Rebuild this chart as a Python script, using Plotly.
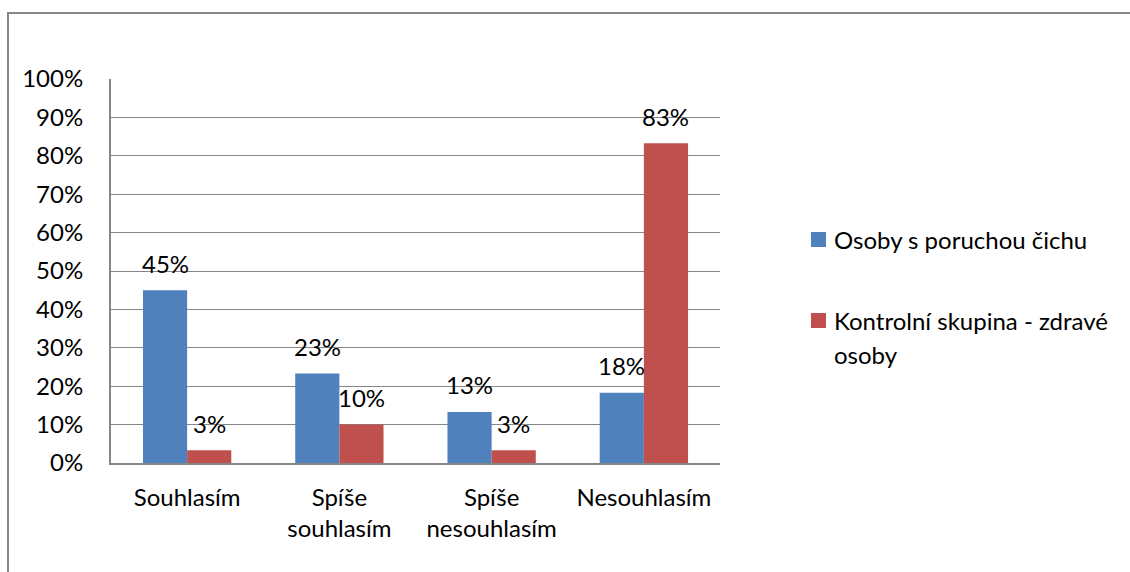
import plotly.graph_objects as go

categories = ["Souhlasím", "Spíše<br>souhlasím", "Spíše<br>nesouhlasím", "Nesouhlasím"]
series_names = ["Osoby s poruchou čichu", "Kontrolní skupina - zdravé<br>osoby"]
patients = [45.0, 23.3, 13.3, 18.3]
controls = [3.3, 10.0, 3.3, 83.3]
y_ticks = [0, 10, 20, 30, 40, 50, 60, 70, 80, 90, 100]
y_tick_labels = [f"{v}%" for v in y_ticks]

FONT = "Lato"
FS = 24
colors = ["#4F81BD", "#C0504D"]

# plot area in pixels
L, R, T, B = 111, 720, 79, 463
W, H = R - L, B - T

def px_x(x):
    return (x - L) / W

def px_y(y):
    return (B - y) / H

fig = go.Figure()
for name, vals, col in zip(series_names, [patients, controls], colors):
    fig.add_trace(go.Bar(
        x=categories, y=vals, name=name.replace("<br>", " "),
        marker=dict(color=col, line=dict(width=0)), showlegend=False,
    ))

# data labels
for vals, shift in [(patients, -22), (controls, 22)]:
    for c, v in zip(categories, vals):
        fig.add_annotation(x=c, y=v, xref="x", yref="y", text=f"{round(v)}%",
                           showarrow=False, xshift=shift, yshift=27, yanchor="middle",
                           font=dict(family=FONT, size=FS, color="#000000"))

# manual legend
legend_rows = [(239.5, [series_names[0]]), (320.5, series_names[1].split("<br>"))]
for (cy, lines), col in zip(legend_rows, colors):
    fig.add_shape(type="rect", xref="paper", yref="paper",
                  x0=px_x(811), x1=px_x(826), y0=px_y(cy + 7.5), y1=px_y(cy - 7.5),
                  fillcolor=col, line=dict(width=0))
    for i, ln in enumerate(lines):
        fig.add_annotation(xref="paper", yref="paper", x=px_x(832), y=px_y(cy + 34 * i),
                           text=ln, showarrow=False, xanchor="left", yanchor="middle",
                           font=dict(family=FONT, size=FS, color="#000000"))

fig.update_layout(
    width=1130, height=572,
    margin=dict(l=L, r=1130 - R, t=T, b=572 - B),
    paper_bgcolor="white", plot_bgcolor="white",
    barmode="group", bargap=0.42, bargroupgap=0,
    font=dict(family=FONT, size=FS, color="#000000"),
    showlegend=False,
)
fig.update_xaxes(showline=True, linecolor="#868686", linewidth=2, showgrid=False,
                 ticks="", ticklabelstandoff=12, tickfont=dict(family=FONT, size=FS))
fig.update_yaxes(range=[0, 100], tickvals=y_ticks, ticktext=y_tick_labels,
                 showline=True, linecolor="#868686", linewidth=2,
                 showgrid=True, gridcolor="#868686", gridwidth=1.2,
                 ticks="", ticklabelstandoff=21, zeroline=False,
                 tickfont=dict(family=FONT, size=FS))

fig.add_shape(type="rect", xref="paper", yref="paper",
              x0=px_x(8), x1=2.0, y0=-1.0, y1=px_y(13),
              line=dict(color="#868686", width=2), fillcolor="rgba(0,0,0,0)", layer="below")

fig.write_html("out.html")
